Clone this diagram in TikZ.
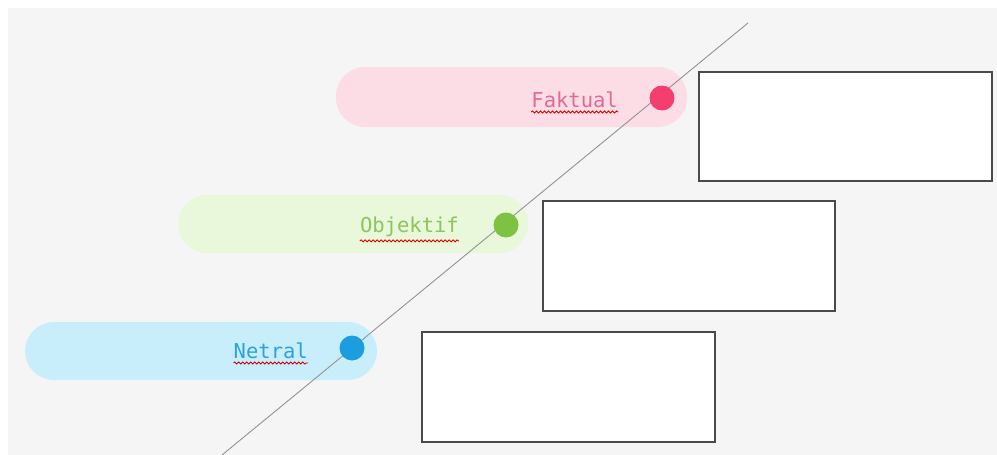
\documentclass[tikz,border=0pt]{standalone}
\usepackage{fontspec}
\setmonofont{DejaVu Sans Mono}
\usetikzlibrary{decorations.pathmorphing}
\definecolor{bgc}{HTML}{F5F5F5}
\definecolor{pinkpill}{HTML}{FDDDE5}
\definecolor{pinkdot}{HTML}{F23F6E}
\definecolor{pinktxt}{HTML}{E06A93}
\definecolor{greenpill}{HTML}{E9F7DA}
\definecolor{greendot}{HTML}{7DC242}
\definecolor{greentxt}{HTML}{8CC65A}
\definecolor{bluepill}{HTML}{C9EEFB}
\definecolor{bluedot}{HTML}{1C9DE0}
\definecolor{bluetxt}{HTML}{2CA3DA}
\definecolor{boxline}{HTML}{4A4A4A}
\tikzset{
  pill/.style={rounded corners=29pt},
  dotmark/.style={circle,inner sep=0pt,minimum size=25pt},
  label/.style={font=\ttfamily\fontsize{20.5}{24}\selectfont,inner sep=0pt,anchor=base east},
  answerbox/.style={draw=boxline,line width=1.9pt,fill=white},
  squiggle/.style={draw=red!85!black,line width=0.9pt,decorate,decoration={snake,amplitude=1pt,segment length=4pt}},
  diag/.style={draw=gray!85,line width=0.9pt}
}
\begin{document}
\begin{tikzpicture}[x=1pt,y=-1pt]
\useasboundingbox (0,0) rectangle (997,455);
\fill[bgc] (8,8) rectangle (997,455);
% pills
\fill[pinkpill,pill] (336,67) rectangle (687,127);
\fill[greenpill,pill] (178,195) rectangle (528,253);
\fill[bluepill,pill] (25,322) rectangle (377,380);
% diagonal line
\coordinate (ltop) at (748,23);
\coordinate (lbot) at (222,455);
\draw[diag] (ltop) -- (lbot);
% dots
\node[dotmark,fill=pinkdot] (d1) at (662,98) {};
\node[dotmark,fill=greendot] (d2) at (506,225) {};
\node[dotmark,fill=bluedot] (d3) at (352,348) {};
% labels
\node[label,text=pinktxt] (t1) at (618,107) {Faktual};
\node[label,text=greentxt] (t2) at (459,232) {Objektif};
\node[label,text=bluetxt] (t3) at (308,358) {Netral};
\draw[squiggle] ([yshift=-4.5pt]t1.south west) -- ([yshift=-4.5pt]t1.south east);
\draw[squiggle] ([yshift=-4.5pt]t2.south west) -- ([yshift=-4.5pt]t2.south east);
\draw[squiggle] ([yshift=-4.5pt]t3.south west) -- ([yshift=-4.5pt]t3.south east);
% answer boxes
\draw[answerbox] (699,72) rectangle (992,181);
\node[inner sep=0pt] (b1) at (845.5,126.5) {};
\draw[answerbox] (543,201) rectangle (835,311);
\node[inner sep=0pt] (b2) at (689,256) {};
\draw[answerbox] (422,332) rectangle (715,442);
\node[inner sep=0pt] (b3) at (568.5,387) {};
\end{tikzpicture}
\end{document}
